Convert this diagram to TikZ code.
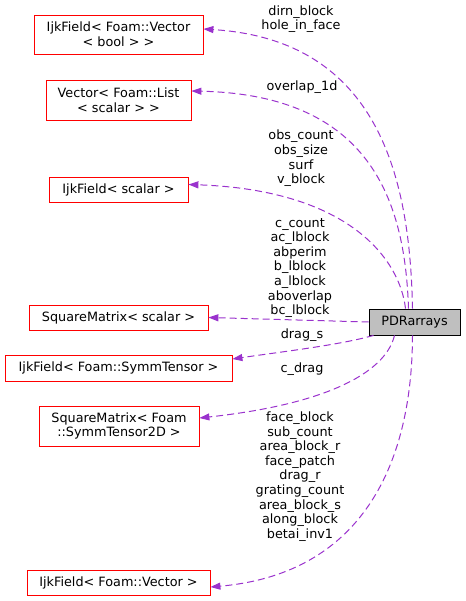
\documentclass[tikz,border=0pt]{standalone}
\usepackage{fontspec}
\setmainfont{DejaVu Sans}
\usetikzlibrary{arrows.meta}

\definecolor{edgepurple}{RGB}{154,50,205}
\definecolor{boxred}{RGB}{255,0,0}
\definecolor{mainfill}{RGB}{191,191,191}

\tikzset{
    member/.style={draw=boxred, thick, inner sep=0pt, align=center, font=\fontsize{12.8}{14.6}\selectfont},
    mainbox/.style={draw=black, thick, fill=mainfill, inner sep=0pt, font=\fontsize{12.8}{14.6}\selectfont},
    uses/.style={edgepurple, line width=1pt, dash pattern=on 7pt off 4pt, -{Triangle[length=10pt,width=7pt]}},
    varlist/.style={inner sep=0pt, align=center, font=\fontsize{12.8}{14.6}\selectfont}
}

\begin{document}
\begin{tikzpicture}[x=1pt,y=-1pt]

    \useasboundingbox (0,0) rectangle (465,601);

    % Member types on the left
    \node[member, minimum width=169pt, minimum height=39pt] (vecbool) at (118.5,34.5) {IjkField< Foam::Vector\\< bool > >};
    \node[member, minimum width=145pt, minimum height=40pt] (listscalar) at (118.5,100) {Vector< Foam::List\\< scalar > >};
    \node[member, minimum width=139pt, minimum height=25pt] (fieldscalar) at (118.5,189.5) {IjkField< scalar >};
    \node[member, minimum width=179pt, minimum height=25pt] (matscalar) at (118.5,317.5) {SquareMatrix< scalar >};
    \node[member, minimum width=227pt, minimum height=26pt] (fieldtensor) at (118.5,368) {IjkField< Foam::SymmTensor >};
    \node[member, minimum width=160pt, minimum height=40pt] (mattensor) at (119,426) {SquareMatrix< Foam\\::SymmTensor2D >};
    \node[member, minimum width=183pt, minimum height=25pt] (fieldvector) at (118.5,582.5) {IjkField< Foam::Vector >};

    % The class itself
    \node[mainbox, minimum width=91pt, minimum height=26pt] (pdr) at (414.5,322) {PDRarrays};

    % Usage edges
    \draw[uses] ([xshift=-2pt]pdr.north) .. controls (410,180) and (380,40) .. ([yshift=5.5pt]vecbool.east);
    \draw[uses] ([xshift=-6pt]pdr.north) .. controls (405,200) and (370,95) .. ([yshift=9pt]listscalar.east);
    \draw[uses] ([xshift=-9pt]pdr.north) .. controls (400,260) and (350,190) .. ([yshift=5pt]fieldscalar.east);
    \draw[uses] (pdr.west) -- (matscalar.east);
    \draw[uses] ([xshift=5pt]pdr.south west) .. controls (340,345) and (280,352) .. ([yshift=9pt]fieldtensor.east);
    \draw[uses] ([xshift=-20pt]pdr.south) .. controls (385,375) and (320,405) .. ([yshift=8pt]mattensor.east);
    \draw[uses] ([xshift=-2pt]pdr.south) .. controls (412,480) and (350,575) .. ([yshift=-4.5pt]fieldvector.east);

    % Member names on the edges
    \node[varlist] (lblvecbool) at (301,19) {dirn\_block\\hole\_in\_face};
    \node[varlist] (lbllist) at (302,87) {overlap\_1d};
    \node[varlist] (lblscalar) at (301,158.5) {obs\_count\\obs\_size\\surf\\v\_block};
    \node[varlist] (lblmat) at (300,268) {c\_count\\ac\_lblock\\abperim\\b\_lblock\\a\_lblock\\aboverlap\\bc\_lblock};
    \node[varlist] (lbltensor) at (302,335) {drag\_s};
    \node[varlist] (lblmattensor) at (302,369) {c\_drag};
    \node[varlist] (lblvector) at (300,476.5) {face\_block\\sub\_count\\area\_block\_r\\face\_patch\\drag\_r\\grating\_count\\area\_block\_s\\along\_block\\betai\_inv1};

\end{tikzpicture}
\end{document}
